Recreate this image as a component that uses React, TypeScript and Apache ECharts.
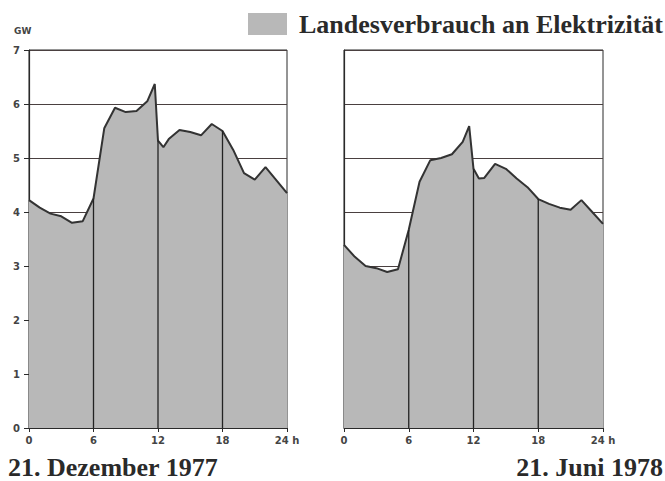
import React, { useEffect, useRef } from "react";
import * as echarts from "echarts";

const hourTicks = [0, 6, 12, 18, 24];
const gwTicks = [0, 1, 2, 3, 4, 5, 6, 7];
const dividerHours = [6, 12, 18];

const decemberLoad: [number, number][] = [
  [0, 4.22], [1, 4.08], [2, 3.97], [3, 3.92], [4, 3.8], [5, 3.83], [6, 4.25],
  [7, 5.55], [8, 5.93], [9, 5.85], [10, 5.87], [11, 6.05], [11.7, 6.37],
  [12, 5.32], [12.5, 5.2], [13, 5.35], [14, 5.52], [15, 5.48], [16, 5.42],
  [17, 5.63], [18, 5.5], [19, 5.15], [20, 4.72], [21, 4.6], [22, 4.83],
  [24, 4.35],
];

const juneLoad: [number, number][] = [
  [0, 3.39], [1, 3.17], [2, 3.0], [3, 2.96], [4, 2.89], [5, 2.94], [6, 3.67],
  [7, 4.56], [8, 4.96], [9, 5.0], [10, 5.07], [11, 5.3], [11.6, 5.59],
  [12, 4.8], [12.5, 4.62], [13, 4.63], [14, 4.89], [15, 4.8], [16, 4.62],
  [17, 4.46], [18, 4.24], [19, 4.15], [20, 4.08], [21, 4.04], [22, 4.22],
  [23, 4.0], [24, 3.78],
];

const legendLabel = "Landesverbrauch an Elektrizität";
const leftTitle = "21. Dezember 1977";
const rightTitle = "21. Juni 1978";
const unitLabel = "GW";

const FILL = "#b8b8b8";
const INK = "#2a2a2a";
const LABEL_FONT = "'DejaVu Sans', sans-serif";
const SERIF = "'Liberation Serif', 'DejaVu Serif', serif";

function valueAt(data: [number, number][], h: number): number {
  const p = data.find((d) => d[0] === h);
  return p ? p[1] : 0;
}

export default function App() {
  const ref = useRef<HTMLDivElement>(null);
  useEffect(() => {
    if (!ref.current) return;
    const chart = echarts.init(ref.current, undefined, { renderer: "svg" });

    const grids = [
      { left: 29, right: 378, top: 50, bottom: 53 },
      { left: 344, right: 62, top: 50, bottom: 53 },
    ].map((g) => ({ ...g, show: true, borderColor: INK, borderWidth: 1, containLabel: false }));

    const xAxes = [0, 1].map((i) => ({
      type: "value",
      gridIndex: i,
      min: hourTicks[0],
      max: hourTicks[hourTicks.length - 1],
      interval: 6,
      axisLine: { show: true, lineStyle: { color: INK, width: 1.2 } },
      axisTick: { show: true, length: 4, lineStyle: { color: INK } },
      splitLine: { show: false },
      axisLabel: {
        color: "#444",
        fontFamily: LABEL_FONT,
        fontWeight: "bold",
        fontSize: 10,
        margin: 7,
        formatter: (v: number) => (v === 24 ? "24 h" : String(v)),
      },
    }));

    const yAxes = [0, 1].map((i) => ({
      type: "value",
      gridIndex: i,
      min: gwTicks[0],
      max: gwTicks[gwTicks.length - 1],
      interval: 1,
      axisLine: { show: true, lineStyle: { color: INK, width: 1.2 } },
      axisTick: { show: i === 0, length: 5, lineStyle: { color: INK } },
      splitLine: { show: true, lineStyle: { color: "#4a4040", width: 1 } },
      axisLabel: {
        show: i === 0,
        color: "#444",
        fontFamily: LABEL_FONT,
        fontWeight: "bold",
        fontSize: 10,
        margin: 9,
      },
    }));

    const datasets = [decemberLoad, juneLoad];
    const series: any[] = [];
    datasets.forEach((data, i) => {
      series.push({
        type: "line",
        xAxisIndex: i,
        yAxisIndex: i,
        data,
        symbol: "none",
        lineStyle: { color: "#333", width: 2 },
        areaStyle: { color: FILL, opacity: 1 },
        z: 2,
      });
      dividerHours.forEach((h) => {
        series.push({
          type: "line",
          xAxisIndex: i,
          yAxisIndex: i,
          data: [[h, 0], [h, valueAt(data, h)]],
          symbol: "none",
          lineStyle: { color: "#222", width: 1.3 },
          z: 3,
        });
      });
    });

    chart.setOption({
      animation: false,
      backgroundColor: "#ffffff",
      grid: grids,
      xAxis: xAxes,
      yAxis: yAxes,
      series,
      graphic: [
        {
          type: "rect",
          shape: { x: 248, y: 13, width: 39, height: 22 },
          style: { fill: FILL },
        },
        {
          type: "text",
          x: 663,
          y: 24,
          style: {
            text: legendLabel,
            font: `bold 26px ${SERIF}`,
            fill: INK,
            align: "right",
            verticalAlign: "middle",
          },
        },
        {
          type: "text",
          x: 14,
          y: 31,
          style: {
            text: unitLabel,
            font: `bold 9px ${LABEL_FONT}`,
            fill: "#444",
            align: "left",
            verticalAlign: "middle",
          },
        },
        {
          type: "text",
          x: 8,
          y: 467,
          style: {
            text: leftTitle,
            font: `bold 26px ${SERIF}`,
            fill: INK,
            align: "left",
            verticalAlign: "middle",
          },
        },
        {
          type: "text",
          x: 663,
          y: 467,
          style: {
            text: rightTitle,
            font: `bold 26px ${SERIF}`,
            fill: INK,
            align: "right",
            verticalAlign: "middle",
          },
        },
      ],
    });
    return () => chart.dispose();
  }, []);
  return <div ref={ref} style={{ width: 665, height: 481, position: "absolute", left: 0, top: 0 }} />;
}
